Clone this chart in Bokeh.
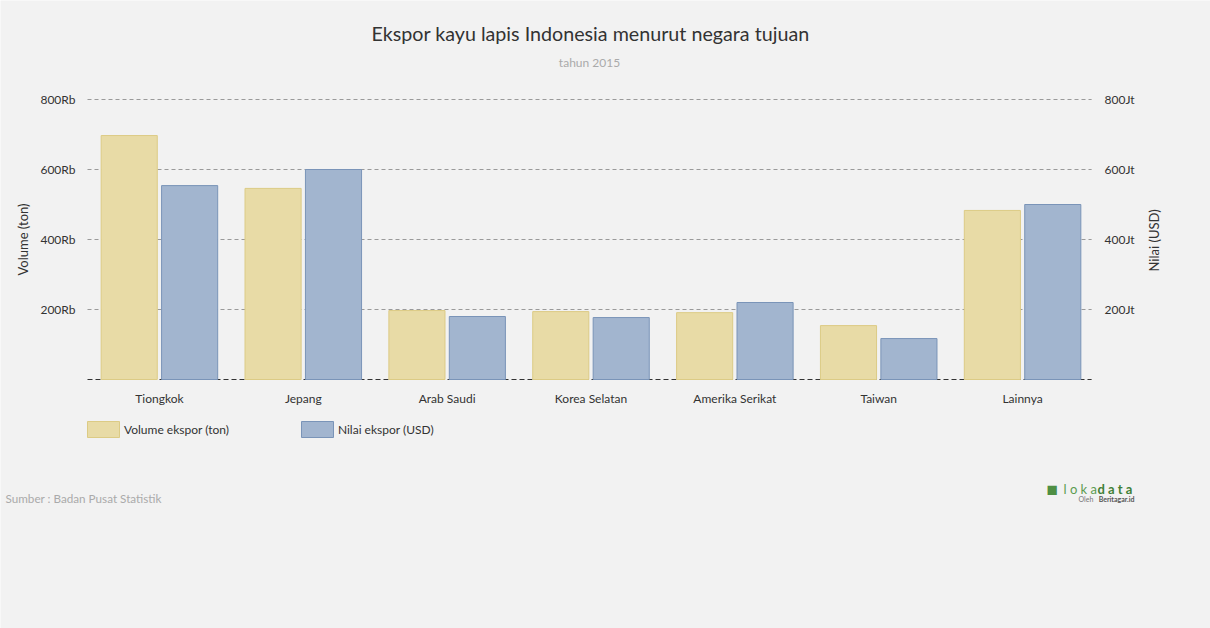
from bokeh.plotting import figure
from bokeh.models import (ColumnDataSource, Range1d, LinearAxis, FixedTicker,
                          Label, Legend, LegendItem)
from bokeh.transform import dodge
from bokeh.embed import file_html
from bokeh.resources import INLINE
import math

countries = ["Tiongkok", "Jepang", "Arab Saudi", "Korea Selatan", "Amerika Serikat", "Taiwan", "Lainnya"]
volume_ton = [697000, 546000, 197000, 194000, 191000, 154000, 483000]
nilai_usd = [554000000, 600000000, 180000000, 177000000, 220000000, 117000000, 500000000]
left_ticks = [200000, 400000, 600000, 800000]
left_labels = ["200Rb", "400Rb", "600Rb", "800Rb"]
right_ticks = [200000000, 400000000, 600000000, 800000000]
right_labels = ["200Jt", "400Jt", "600Jt", "800Jt"]

FONT = "Lato"
BG = "#f2f2f2"
YELLOW, YELLOW_LINE = "#e8dba6", "#dccb85"
BLUE, BLUE_LINE = "#a2b5cf", "#7a94b8"

# ---- layout (pixels) ----
W, H = 1210, 628
PLOT_L, PLOT_R = 87, 1094          # horizontal extent of the category area
Y0_PX, YTOP_PX = 379, 99           # pixel rows of 0 and 800Rb
n = len(countries)
CAT_PX = (PLOT_R - PLOT_L) / n
PER_PX = 800000 / (Y0_PX - YTOP_PX)

idx = [i + 0.5 for i in range(n)]
src = ColumnDataSource(dict(idx=idx, country=countries, vol=volume_ton, val=nilai_usd))

x_range = Range1d(-PLOT_L / CAT_PX, (W - PLOT_L) / CAT_PX)
y_range = Range1d(-(H - Y0_PX) * PER_PX, 800000 + YTOP_PX * PER_PX)

p = figure(width=W, height=H, x_range=x_range, y_range=y_range,
           output_backend="svg", toolbar_location=None,
           min_border=0, min_border_left=0, min_border_right=0,
           min_border_top=0, min_border_bottom=0)
p.background_fill_color = BG
p.border_fill_color = BG
p.outline_line_color = None
p.grid.visible = False
p.extra_y_ranges = {"usd": Range1d(y_range.start * 1000, y_range.end * 1000)}

# grid lines and baseline over the category area
p.segment(x0=0, x1=n - 0.02, y0=left_ticks, y1=left_ticks, line_color="#9a9a9a",
          line_dash="4 3", line_width=1)
p.segment(x0=0, x1=n - 0.02, y0=0, y1=0, line_color="#333333", line_dash="5 3", line_width=1)

r1 = p.vbar(x=dodge("idx", -0.21), top="vol", width=0.39, source=src,
            fill_color=YELLOW, line_color=YELLOW_LINE)
r2 = p.vbar(x=dodge("idx", 0.21), top="val", width=0.39, source=src,
            y_range_name="usd", fill_color=BLUE, line_color=BLUE_LINE)

# ---- axes ----
ya = p.yaxis[0]
ya.ticker = FixedTicker(ticks=left_ticks)
ya.major_label_overrides = {t: l for t, l in zip(left_ticks, left_labels)}
ya.axis_label = "Volume (ton)"
ya.fixed_location = 0
ya.bounds = (0, 800000)

# the rotated right-hand label starts at the middle of the bounds, so the bounds are
# shifted down to centre the text beside the plot area
ra = LinearAxis(y_range_name="usd", ticker=FixedTicker(ticks=right_ticks),
                major_label_overrides={t: l for t, l in zip(right_ticks, right_labels)},
                axis_label="Nilai (USD)", fixed_location=n, bounds=(-182857143, 800000000))
p.add_layout(ra, "right")

xa = p.xaxis[0]
xa.ticker = FixedTicker(ticks=idx)
xa.major_label_overrides = {v: c for v, c in zip(idx, countries)}
xa.fixed_location = 0

for ax in [ya, ra, xa]:
    ax.axis_line_color = None
    ax.major_tick_line_color = None
    ax.minor_tick_line_color = None
    ax.major_tick_out = 0
    ax.major_tick_in = 0
    ax.minor_tick_out = 0
    ax.minor_tick_in = 0
    ax.major_label_text_font = FONT
    ax.major_label_text_font_size = "12px"
    ax.major_label_text_color = "#333333"
    ax.axis_label_text_font = FONT
    ax.axis_label_text_font_size = "13px"
    ax.axis_label_text_font_style = "normal"
    ax.axis_label_text_color = "#333333"
ya.major_label_standoff = 12
ya.axis_label_standoff = 6
ra.major_label_standoff = 10
ra.axis_label_standoff = 16
ra.axis_label_orientation = math.pi / 2
xa.major_label_standoff = 11

# ---- legend ----
legend = Legend(items=[LegendItem(label="Volume ekspor (ton)", renderers=[r1]),
                       LegendItem(label="Nilai ekspor (USD)", renderers=[r2])],
                orientation="horizontal", location=(PLOT_L - 4, H - 439), padding=0, margin=0,
                spacing=68, glyph_width=40, glyph_height=20, label_standoff=1,
                label_text_font=FONT, label_text_font_size="12px", label_text_color="#333333",
                background_fill_alpha=0, border_line_color=None)
p.add_layout(legend)


def lab(x, y, text, size, color, align="left", style="normal"):
    p.add_layout(Label(x=x, y=H - y, x_units="screen", y_units="screen", text=text,
                       text_font=FONT, text_font_size=size, text_color=color,
                       text_align=align, text_baseline="middle", text_font_style=style))


lab(590, 33, "Ekspor kayu lapis Indonesia menurut negara tujuan", "19.7px", "#333333", "center")
lab(589, 62, "tahun 2015", "12px", "#aaaaaa", "center")
lab(5, 497, "Sumber : Badan Pusat Statistik", "11.7px", "#aaaaaa")
lab(1046, 488, "\u25a0", "19px", "#4f8f44")
lab(1063, 488, "l o k a", "13px", "#5c9b50")
lab(1097, 488, "d a t a", "13px", "#3f7f36", style="bold")
lab(1078, 498, "Oleh", "7px", "#777777")
lab(1134, 498, "Beritagar.id", "7px", "#555555", "right", "bold")

open("out.html", "w").write(file_html(p, INLINE))
